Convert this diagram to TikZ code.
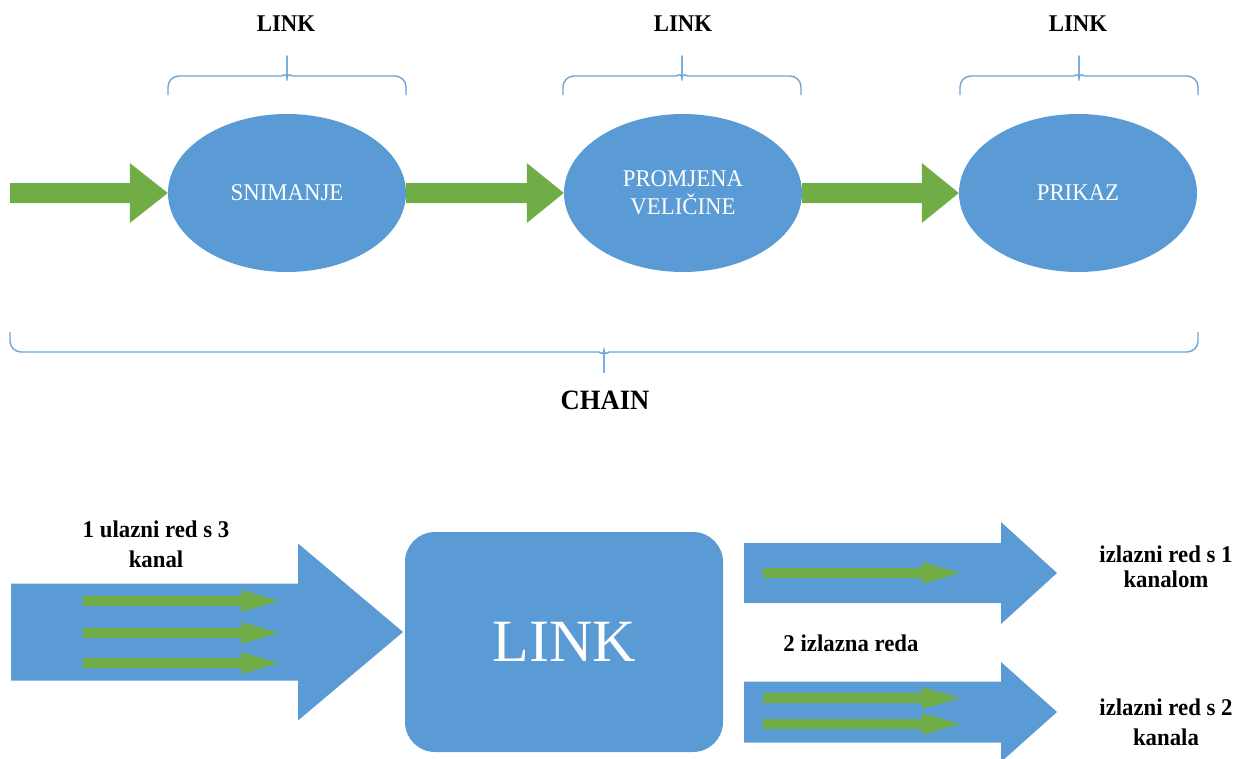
\documentclass[tikz,border=0pt]{standalone}
\usepackage{fontspec}
\setmainfont{Liberation Serif}
\newfontfamily\lbl[FakeStretch=0.95]{Liberation Serif}
\usetikzlibrary{shapes.geometric,calc}
\definecolor{ablue}{HTML}{5B9BD5}
\definecolor{agreen}{HTML}{70AD47}
% block arrow: #1 start, #2 tip, #3 shaft half height, #4 head half height, #5 head length, #6 colour
\newcommand\blockarrow[6]{%
  \fill[#6] ($(#1)+(0,-#3)$) -- ($(#2)+(-#5,-#3)$) -- ($(#2)+(-#5,-#4)$) -- (#2)
    -- ($(#2)+(-#5,#4)$) -- ($(#2)+(-#5,#3)$) -- ($(#1)+(0,#3)$) -- cycle;}
% brace: #1 x left, #2 x right, #3 y ends, #4 y bar, #5 y tip
\newcommand\mybrace[5]{%
  \draw[brc] (#1,#3) -- (#1,#4) -- ({(#1+#2)/2-16},#4)
    .. controls ({(#1+#2)/2-6},#4) and ({(#1+#2)/2},{#4+0.2*(#5-#4)}) .. ({(#1+#2)/2},{#4+0.55*(#5-#4)})
    -- ({(#1+#2)/2},#5);
  \draw[brc] (#2,#3) -- (#2,#4) -- ({(#1+#2)/2+16},#4)
    .. controls ({(#1+#2)/2+6},#4) and ({(#1+#2)/2},{#4+0.2*(#5-#4)}) .. ({(#1+#2)/2},{#4+0.55*(#5-#4)})
    -- ({(#1+#2)/2},#5);}
\begin{document}
\begin{tikzpicture}[x=1pt,y=-1pt,
  brc/.style={draw=ablue!90!white,line width=1.4pt,rounded corners=11pt},
  ell/.style={ellipse,fill=ablue,minimum width=238pt,minimum height=158pt,inner sep=0pt,
    text=white,align=center,font=\lbl\fontsize{24}{28}\selectfont},
  toplbl/.style={font=\lbl\bfseries\fontsize{24}{28}\selectfont,inner sep=0pt},
  chainlbl/.style={font=\lbl\bfseries\fontsize{28}{32}\selectfont,inner sep=0pt},
  linkbox/.style={rectangle,rounded corners=30pt,fill=ablue,minimum width=318pt,minimum height=220pt,
    inner sep=0pt,text=white,font=\fontsize{60}{70}\selectfont},
  botlbl/.style={font=\lbl\bfseries\fontsize{24}{30}\selectfont,align=center,inner sep=0pt}]
\useasboundingbox (0,0) rectangle (1239,758);

% top row
\node[ell] (e1) at (287,193) {SNIMANJE};
\node[ell] (e2) at (683,193) {PROMJENA\\VELIČINE};
\node[ell] (e3) at (1078,193) {PRIKAZ};
\coordinate (a0) at (10,193);
\blockarrow{a0}{e1.west}{10}{30}{38}{agreen}
\blockarrow{e1.east}{e2.west}{10}{30}{37}{agreen}
\blockarrow{e2.east}{e3.west}{10}{30}{37}{agreen}

\node[toplbl] (l1) at (286,24) {LINK};
\node[toplbl] (l2) at (683,24) {LINK};
\node[toplbl] (l3) at (1078,24) {LINK};
\mybrace{168}{406}{95}{76}{59}
\mybrace{563}{801}{95}{76}{59}
\mybrace{960}{1198}{95}{76}{59}

\mybrace{10}{1198}{332}{352}{370}
\node[chainlbl] (ch) at (605,400) {CHAIN};

% bottom part
\node[linkbox] (lk) at (564,642) {LINK};
\coordinate (inS) at (11,632);
\coordinate (inT) at (403,632);
\blockarrow{inS}{inT}{48.5}{88.5}{105}{ablue}
\coordinate (g1s) at (83,601); \coordinate (g1t) at (279,601);
\coordinate (g2s) at (83,633); \coordinate (g2t) at (279,633);
\coordinate (g3s) at (83,663); \coordinate (g3t) at (279,663);
\blockarrow{g1s}{g1t}{5}{11}{38}{agreen}
\blockarrow{g2s}{g2t}{5}{11}{38}{agreen}
\blockarrow{g3s}{g3t}{5}{11}{38}{agreen}

\coordinate (o1s) at (744,573); \coordinate (o1t) at (1057,573);
\coordinate (o2s) at (744,712); \coordinate (o2t) at (1057,712);
\blockarrow{o1s}{o1t}{30}{51}{56}{ablue}
\blockarrow{o2s}{o2t}{30.5}{50}{56}{ablue}
\coordinate (h1s) at (763,573); \coordinate (h1t) at (960,573);
\coordinate (h2s) at (763,698); \coordinate (h2t) at (960,698);
\coordinate (h3s) at (763,724); \coordinate (h3t) at (960,724);
\blockarrow{h1s}{h1t}{5}{11}{38}{agreen}
\blockarrow{h2s}{h2t}{5}{11}{38}{agreen}
\blockarrow{h3s}{h3t}{5}{11}{38}{agreen}

\node[botlbl] (t1) at (156,544) {1 ulazni red s 3\\kanal};
\node[botlbl] (t2) at (851,643) {2 izlazna reda};
\node[botlbl,font=\lbl\bfseries\fontsize{24}{25}\selectfont] (t3) at (1166,567) {izlazni red s 1\\kanalom};
\node[botlbl] (t4) at (1166,722) {izlazni red s 2\\kanala};
\end{tikzpicture}
\end{document}
